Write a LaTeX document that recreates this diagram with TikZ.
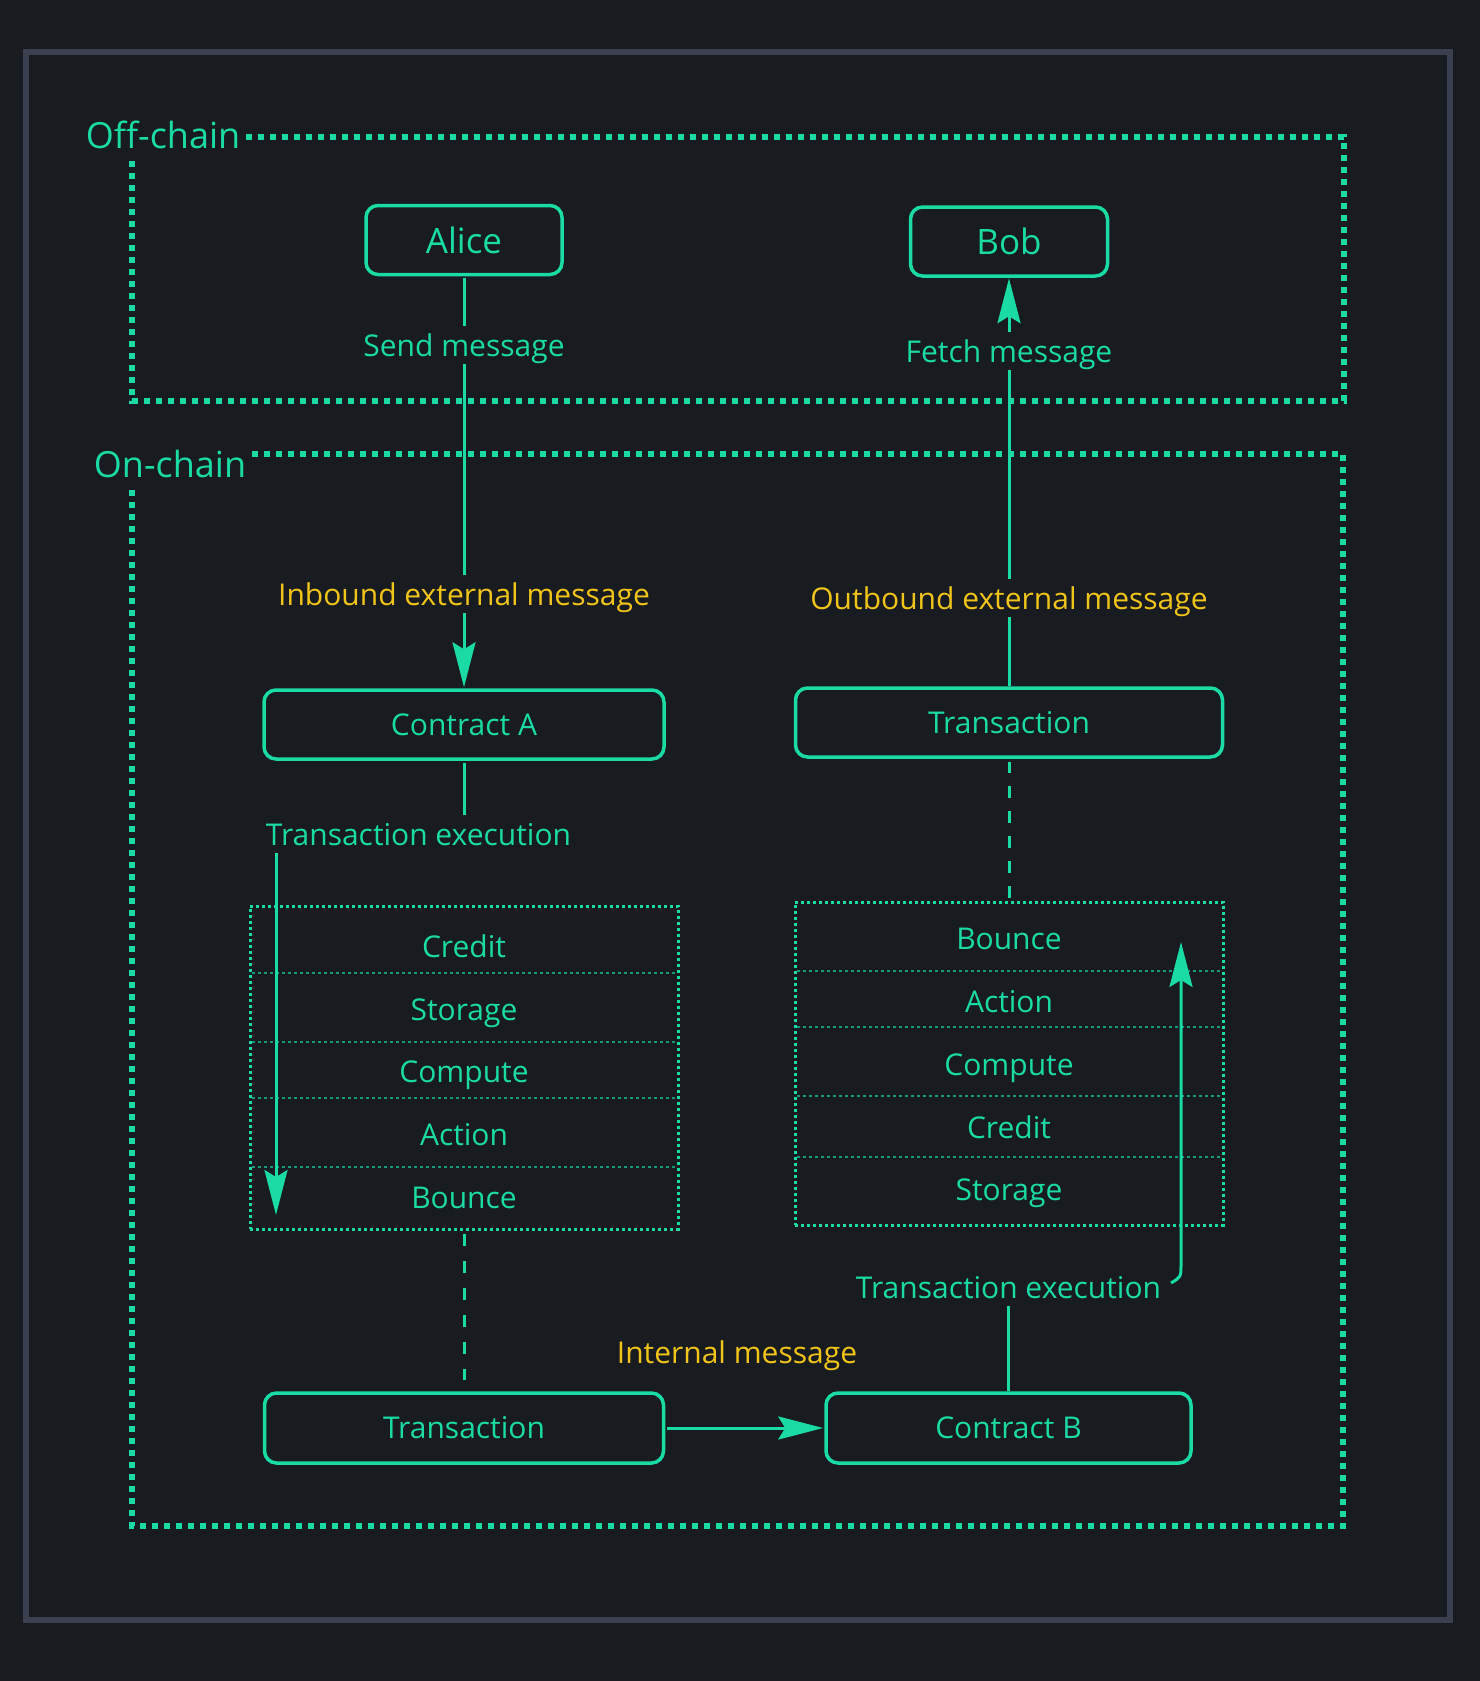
\documentclass[tikz,border=0pt]{standalone}
\usepackage{fontspec}
\setmainfont{Open Sans}
\usetikzlibrary{arrows.meta}
\definecolor{bgc}{HTML}{181B1F}
\definecolor{framec}{HTML}{3A4050}
\definecolor{tg}{HTML}{1ADBA4}
\definecolor{ylw}{HTML}{F0C419}
\definecolor{dimtg}{HTML}{16987A}
\begin{document}
\begin{tikzpicture}[x=1pt,y=-1pt,
  box/.style={draw=tg, line width=3.5pt, rounded corners=12pt, text=tg,
    font=\fontsize{30}{36}\selectfont, inner sep=0pt},
  namebox/.style={box, font=\fontsize{35}{42}\selectfont},
  lbl/.style={text=tg, font=\fontsize{30}{36}\selectfont, anchor=base,
    text height=22pt, text depth=0pt, inner xsep=2pt, inner ysep=8pt},
  ylbl/.style={lbl, text=ylw},
  rowtxt/.style={text=tg, font=\fontsize{30}{36}\selectfont, anchor=base, inner sep=0pt},
  zone/.style={draw=tg, line width=6pt, dash pattern=on 6pt off 6pt},
  zonelbl/.style={text=tg, fill=bgc, font=\fontsize{36}{42}\selectfont, anchor=base,
    text height=30pt, text depth=13pt, inner xsep=4pt, inner ysep=0pt},
  stagebox/.style={draw=tg, line width=3pt, dash pattern=on 3pt off 3pt, inner sep=0pt},
  sep/.style={draw=dimtg, line width=2.5pt, dash pattern=on 2.5pt off 3.5pt},
  conn/.style={draw=tg, line width=3pt},
  arr/.style={conn, -{Stealth[length=45pt,width=23pt,inset=7pt]}},
  dsh/.style={draw=tg, line width=3pt, dash pattern=on 12pt off #1},
  dsh/.default=13pt
]
% background and frame
\fill[bgc] (0,0) rectangle (1480,1681);
\useasboundingbox (0,0) rectangle (1480,1681);
\draw[framec, line width=6pt] (26,52) rectangle (1450,1620);

% zones
\draw[zone] (132,137) rectangle (1344,401);
\draw[zone] (132,454) rectangle (1343,1526);
\node[zonelbl] (offl) at (163,148) {Off-chain};
\node[zonelbl] (onl) at (170,477) {On-chain};

% stage boxes
\node[stagebox, minimum width=428pt, minimum height=323pt] (stL) at (464,1067.5) {};
\draw[sep] (252,973) -- (676,973);
\draw[sep] (252,1042) -- (676,1042);
\draw[sep] (252,1098) -- (676,1098);
\draw[sep] (252,1167) -- (676,1167);
\node[rowtxt] (l1) at (464,957) {Credit};
\node[rowtxt] (l2) at (464,1020) {Storage};
\node[rowtxt] (l3) at (464,1082) {Compute};
\node[rowtxt] (l4) at (464,1145) {Action};
\node[rowtxt] (l5) at (464,1208) {Bounce};

\node[stagebox, minimum width=428pt, minimum height=323pt] (stR) at (1009,1063.5) {};
\draw[sep] (797,971) -- (1221,971);
\draw[sep] (797,1027) -- (1221,1027);
\draw[sep] (797,1096) -- (1221,1096);
\draw[sep] (797,1157) -- (1221,1157);
\node[rowtxt] (r1) at (1009,949) {Bounce};
\node[rowtxt] (r2) at (1009,1012) {Action};
\node[rowtxt] (r3) at (1009,1075) {Compute};
\node[rowtxt] (r4) at (1009,1138) {Credit};
\node[rowtxt] (r5) at (1009,1200) {Storage};

% boxes
\node[namebox, minimum width=196pt, minimum height=69pt] (alice) at (464,240) {Alice};
\node[namebox, minimum width=197pt, minimum height=69pt] (bob) at (1009,241.5) {Bob};
\node[box, minimum width=400pt, minimum height=69pt] (ca) at (464,724.5) {Contract A};
\node[box, minimum width=427pt, minimum height=69pt] (trR) at (1009,722.5) {Transaction};
\node[box, minimum width=399pt, minimum height=70pt] (trL) at (464,1428) {Transaction};
\node[box, minimum width=365pt, minimum height=70pt] (cb) at (1008.5,1428) {Contract B};

% labels
\node[lbl] (send) at (464,356) {Send message};
\node[ylbl] (inb) at (464,605) {Inbound external message};
\node[lbl] (texL) at (418.5,845) {Transaction execution};
\node[lbl] (fetch) at (1009,362) {Fetch message};
\node[ylbl] (outb) at (1009,609) {Outbound external message};
\node[lbl] (texR) at (1008.5,1298) {Transaction execution};
\node[ylbl, inner ysep=2pt] (intm) at (737,1363) {Internal message};

% left flow
\draw[conn, shorten <=1.5pt] (alice) -- (send);
\draw[conn] (send) -- (inb);
\draw[arr, shorten >=1pt] (inb) -- (ca);
\draw[conn, shorten <=2pt] (ca) -- (ca |- texL.north);
\coordinate (la) at (276,853);
\coordinate (lb) at (276,1215);
\draw[arr] (la) -- (lb);
\draw[dsh=15pt, shorten <=3pt, shorten >=11pt] (stL) -- (trL);
\draw[arr, shorten <=2pt, shorten >=1pt] (trL) -- (cb);

% right flow
\draw[conn] (cb) -- (texR);
\coordinate (rs) at (1171,1283);
\coordinate (rt) at (1181,942);
\draw[arr] (rs) .. controls (1181,1277) .. (1181,1264) -- (rt);
\draw[dsh, shorten <=3pt, shorten >=3pt] (stR) -- (trR);
\draw[conn] (trR) -- (outb);
\draw[conn] (outb) -- (fetch);
\draw[arr, shorten >=0.5pt] (fetch) -- (bob);
\end{tikzpicture}
\end{document}
